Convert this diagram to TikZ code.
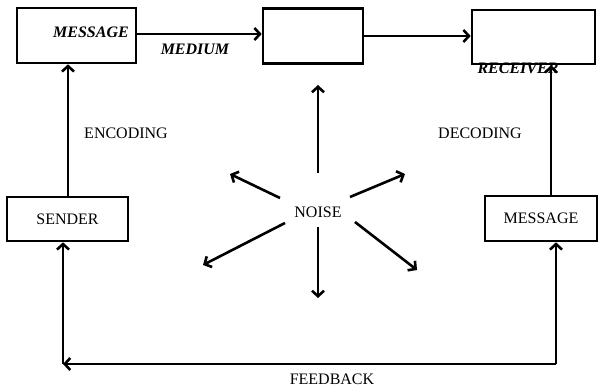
\documentclass[tikz,border=0pt]{standalone}
\usepackage{fontspec}
\setmainfont{Liberation Serif}
\usetikzlibrary{arrows.meta}
\tikzset{
  box/.style={draw, line width=2.6pt, minimum width=#1, inner sep=0pt},
  arr/.style={line width=2.6pt, -{Straight Barb[length=5.5pt,width=12pt,line width=2.6pt]}},
  lbl/.style={inner sep=0pt, font=\fontsize{16}{18}\selectfont},
  blbl/.style={inner sep=0pt, font=\fontsize{16}{18}\selectfont\bfseries\itshape}
}
\begin{document}
\begin{tikzpicture}[x=1pt,y=-1pt]
  \useasboundingbox (0,0) rectangle (598,387);
  %%%%%%%%%%%%%The top row%%%%%%%%%%%%%%%%%%%%%%
  \node[box=119pt, minimum height=55pt] (msgbox) at (76.5,35.5) {};
  \node[box=100pt, minimum height=55pt] (medbox) at (313,36) {};
  \node[box=123pt, minimum height=54pt] (recbox) at (533.5,37) {};
  \node[blbl] (msgtxt) at (91,32) {MESSAGE};
  \node[blbl] (medtxt) at (195,49) {MEDIUM};
  \node[blbl] (rectxt) at (518,68) {RECEIVER};
  \draw[arr] (msgbox.east |- 0,34) -- (medbox.west |- 0,34);
  \draw[arr] (medbox.east) -- (recbox.west |- medbox.east);

  %%%%%%%%%%%%%The bottom row%%%%%%%%%%%%%%%%%%%%%%
  \node[box=121pt, minimum height=44pt, lbl] (sender) at (67.5,219) {SENDER};
  \node[box=112pt, minimum height=45pt, lbl] (msgtwo) at (541,218.5) {MESSAGE};
  \draw[arr] (sender.north -| 68,0) -- (msgbox.south -| 68,0);
  \draw[arr] (msgtwo.north -| 551,0) -- (recbox.south -| 551,0);
  \node[lbl] (enc) at (126,133) {ENCODING};
  \node[lbl] (dec) at (480,133) {DECODING};

  %%%%%%%%%%%%%Feedback%%%%%%%%%%%%%%%%%%%%%%
  \coordinate (fbl) at (63,364);
  \coordinate (fbr) at (556,364);
  \draw[arr] (fbr) -- (fbr |- msgtwo.south);
  \draw[arr] (fbr) -- (fbl);
  \draw[arr] (fbl) -- (fbl |- sender.south);
  \node[lbl] (fb) at (332,379) {FEEDBACK};

  %%%%%%%%%%%%%Noise%%%%%%%%%%%%%%%%%%%%%%
  \node[lbl] (noise) at (318,212) {NOISE};
  \coordinate (nu) at (318,85);
  \coordinate (nd) at (318,298);
  \coordinate (nul) at (230,174);
  \coordinate (nur) at (405,174);
  \coordinate (ndl) at (203,265);
  \coordinate (ndr) at (417,270);
  \draw[arr] ([shift={(0,-39)}]noise.center) -- (nu);
  \draw[arr] ([shift={(0,15)}]noise.center) -- (nd);
  \draw[arr] ([shift={(-38,-14)}]noise.center) -- (nul);
  \draw[arr] ([shift={(32,-15)}]noise.center) -- (nur);
  \draw[arr] ([shift={(-33,11)}]noise.center) -- (ndl);
  \draw[arr] ([shift={(37,10)}]noise.center) -- (ndr);
\end{tikzpicture}
\end{document}
